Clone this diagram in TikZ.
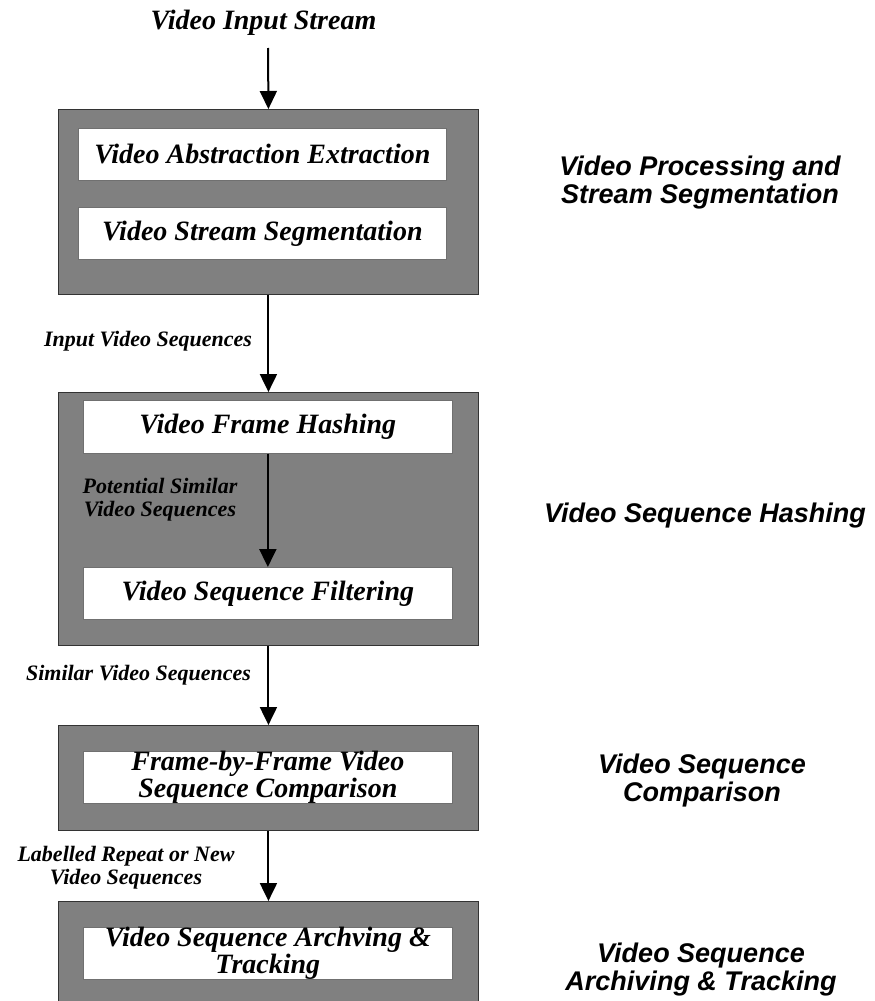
\documentclass[tikz,border=0pt]{standalone}
\usepackage{fontspec}
\setmainfont{Liberation Serif}
\newfontfamily\labelsans{Liberation Sans}
\usetikzlibrary{arrows.meta}
\definecolor{boxgray}{HTML}{808080}
\definecolor{edgegray}{HTML}{333333}
\begin{document}
\begin{tikzpicture}[x=1pt,y=-1pt,
  graybox/.style={draw=edgegray, line width=0.9pt, fill=boxgray, anchor=north west, inner sep=0pt, minimum width=420pt},
  whitebox/.style={draw=edgegray!70, line width=0.7pt, fill=white, anchor=north west, inner sep=0pt,
    minimum height=52pt, font=\fontsize{28}{25}\selectfont\bfseries\itshape, align=center},
  titletext/.style={anchor=base, inner sep=0pt, font=\fontsize{28}{28}\selectfont\bfseries\itshape},
  lab/.style={anchor=base, inner sep=0pt, align=center, font=\fontsize{22}{22.5}\selectfont\bfseries\itshape},
  side/.style={anchor=base, inner sep=0pt, align=center, font=\labelsans\fontsize{27}{28}\selectfont\bfseries\itshape},
  arr/.style={line width=2pt, -{Triangle[width=17pt,length=18pt]}}
]
\useasboundingbox (0,0) rectangle (875,1001);
\clip (0,0) rectangle (875,1001);

\node[titletext] (title) at (263.5,29) {Video Input Stream};
\coordinate (in) at (268,48);

\node[graybox, minimum height=185pt] (b1) at (58,109) {};
\node[whitebox, minimum width=368pt] (b1a) at (78,128) {Video Abstraction Extraction};
\node[whitebox, minimum width=368pt] (b1b) at (78,207) {Video Stream Segmentation};

\node[graybox, minimum height=253pt] (b2) at (58,392) {};
\node[whitebox, minimum width=369pt, minimum height=53pt] (b2a) at (83,400) {Video Frame Hashing};
\node[whitebox, minimum width=369pt] (b2b) at (83,567) {Video Sequence Filtering};

\node[graybox, minimum height=105pt] (b3) at (58,725) {};
\node[whitebox, minimum width=369pt] (b3a) at (83,751) {Frame-by-Frame Video\\Sequence Comparison};

\node[graybox, minimum height=130pt] (b4) at (58,901) {};
\node[whitebox, minimum width=369pt] (b4a) at (83,927) {Video Sequence Archving \&\\Tracking};

\draw[arr] (in) -- (b1.north);
\draw[arr] (b1.south) -- (b2.north);
\draw[arr] (b2a.south) -- (b2b.north);
\draw[arr] (b2.south) -- (b3.north);
\draw[arr] (b3.south) -- (b4.north);

\node[lab] (l1) at (148,346) {Input Video Sequences};
\node[lab] (l2) at (160,516) {Potential Similar\\Video Sequences};
\node[lab] (l3) at (138.5,680) {Similar Video Sequences};
\node[lab] (l4) at (126,884) {Labelled Repeat or New\\Video Sequences};

\node[side] (s1) at (700,203) {Video Processing and\\Stream Segmentation};
\node[side] (s2) at (705,522) {Video Sequence Hashing};
\node[side] (s3) at (702,801) {Video Sequence\\Comparison};
\node[side] (s4) at (701,990) {Video Sequence\\Archiving \& Tracking};
\end{tikzpicture}
\end{document}
